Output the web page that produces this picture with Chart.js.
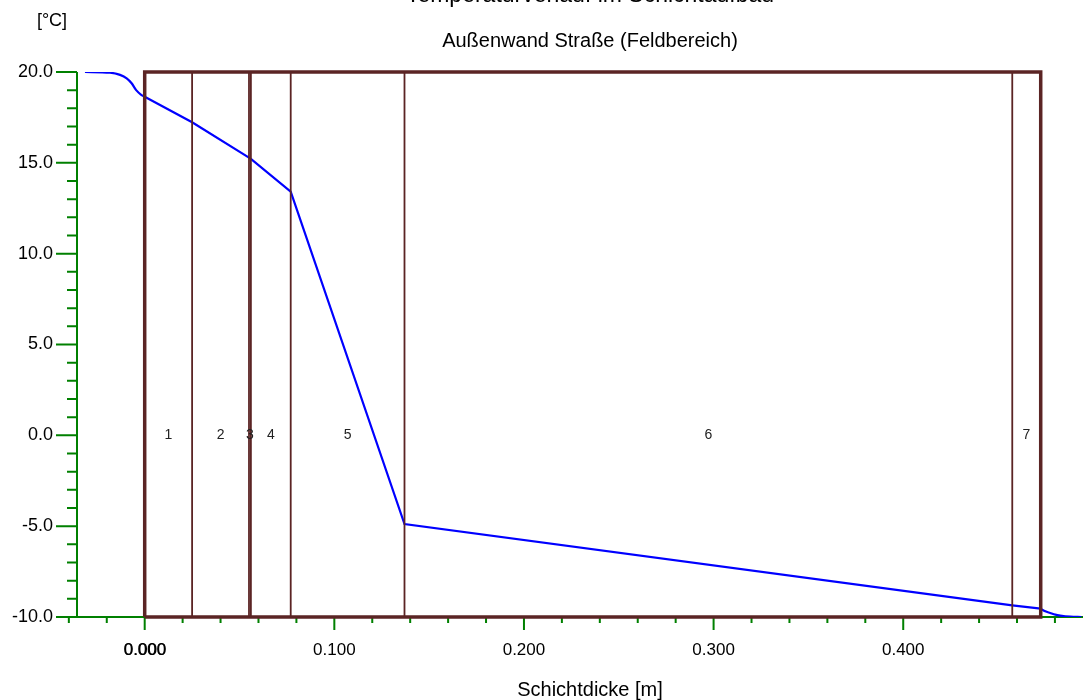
<!DOCTYPE html>
<html>
<head>
<meta charset="utf-8">
<title>Temperaturverlauf im Schichtaufbau</title>
<script src="https://cdn.jsdelivr.net/npm/chart.js@4.4.0/dist/chart.umd.min.js"></script>
<style>
    body { margin: 0; background: #fff; }
    canvas { display: block; }
</style>
</head>
<body>
<canvas id="tempChart" width="1083" height="700"></canvas>
<script>
// layer boundaries [m] and layer numbers
const layerBounds = [0, 0.025, 0.055, 0.056, 0.077, 0.137, 0.4575, 0.4725];
const layerNames = ["1", "2", "3", "4", "5", "6", "7"];

// temperature curve [°C], inside surface zone, wall, outside surface zone
const insideX = [-0.0315, -0.0183, -0.013, -0.0095, -0.0069, -0.0045, -0.002, 0];
const insideT = [20.0, 19.96, 19.84, 19.65, 19.38, 19.0, 18.76, 18.64];
const wallX = [0, 0.025, 0.055, 0.056, 0.077, 0.137, 0.4575, 0.4725];
const wallT = [18.64, 17.23, 15.29, 15.22, 13.42, -4.88, -9.36, -9.54];
const outsideX = [0.4725, 0.4749, 0.4775, 0.4802, 0.4828, 0.4881, 0.494];
const outsideT = [-9.54, -9.69, -9.78, -9.87, -9.92, -9.98, -10.0];

// axis ticks
const yTickValues = [-10, -5, 0, 5, 10, 15, 20];
const yTickLabels = ["-10.0", "-5.0", "0.0", "5.0", "10.0", "15.0", "20.0"];
const xTickValues = [0, 0.1, 0.2, 0.3, 0.4];
const xTickLabels = ["0.000", "0.100", "0.200", "0.300", "0.400"];

const FONT = "'Liberation Sans', Arial, sans-serif";
const GREEN = "#008000";
const BROWN = "#5b2424";

function pts(xs, ys) {
    return xs.map((x, i) => ({ x: x, y: ys[i] }));
}

// frame around the whole wall
const yMin = -10, yMax = 20;
const wallStart = layerBounds[0];
const wallEnd = layerBounds[layerBounds.length - 1];
const framePts = [
    { x: wallStart, y: yMin }, { x: wallStart, y: yMax },
    { x: wallEnd, y: yMax }, { x: wallEnd, y: yMin }, { x: wallStart, y: yMin }
];

// inner layer boundaries as vertical lines, separated by gaps
const innerPts = [];
layerBounds.slice(1, -1).forEach(b => {
    innerPts.push({ x: b, y: yMin }, { x: b, y: yMax }, { x: b, y: null });
});

const axesPlugin = {
    id: "schichtAxes",
    beforeDatasetsDraw(chart) {
        const ctx = chart.ctx;
        const xs = chart.scales.x, ys = chart.scales.y;
        const area = chart.chartArea;
        const x0 = area.left, yb = ys.getPixelForValue(yMin);
        ctx.save();
        ctx.strokeStyle = GREEN;
        ctx.lineWidth = 2;
        ctx.beginPath();
        ctx.moveTo(x0, ys.getPixelForValue(yMax));
        ctx.lineTo(x0, yb);
        ctx.moveTo(x0, yb);
        ctx.lineTo(area.right, yb);
        // y ticks every 1 °C, long ones at the labels
        for (let v = yMin; v <= yMax; v++) {
            const py = ys.getPixelForValue(v);
            const len = v % 5 === 0 ? 21 : 10;
            ctx.moveTo(x0 - len, py);
            ctx.lineTo(x0, py);
        }
        // x ticks every 0.02 m
        for (let i = -2; i <= 24; i++) {
            const v = i * 0.02;
            const px = xs.getPixelForValue(v);
            const len = i % 5 === 0 ? 13 : 6;
            ctx.moveTo(px, yb);
            ctx.lineTo(px, yb + len);
        }
        ctx.stroke();
        ctx.restore();
    },
    afterDraw(chart) {
        const ctx = chart.ctx;
        const xs = chart.scales.x, ys = chart.scales.y;
        const cx = 590;
        ctx.save();
        ctx.fillStyle = "#000";

        ctx.textAlign = "center";
        ctx.textBaseline = "alphabetic";
        ctx.font = "23px " + FONT;
        ctx.fillText("Temperaturverlauf im Schichtaufbau", cx, 2);
        ctx.font = "20px " + FONT;
        ctx.fillText("Außenwand Straße (Feldbereich)", cx, 47);
        ctx.font = "18px " + FONT;
        ctx.fillText("[°C]", 52, 26);

        ctx.textAlign = "right";
        ctx.textBaseline = "middle";
        ctx.font = "18px " + FONT;
        yTickValues.forEach((v, i) => {
            ctx.fillText(yTickLabels[i], 53, ys.getPixelForValue(v));
        });

        ctx.textAlign = "center";
        ctx.font = "17px " + FONT;
        xTickValues.forEach((v, i) => {
            ctx.fillText(xTickLabels[i], xs.getPixelForValue(v), 650);
        });
        // the origin label looks double printed in the source
        ctx.fillText(xTickLabels[0], xs.getPixelForValue(0) + 0.6, 650);

        ctx.font = "20px " + FONT;
        ctx.fillText("Schichtdicke [m]", cx, 690);

        // layer numbers in the middle of each layer at 0 °C
        ctx.font = "14px " + FONT;
        ctx.fillStyle = "#222";
        layerNames.forEach((name, i) => {
            const mid = (layerBounds[i] + layerBounds[i + 1]) / 2;
            ctx.fillText(name, xs.getPixelForValue(mid), ys.getPixelForValue(0));
        });
        ctx.restore();
    }
};

new Chart(document.getElementById("tempChart"), {
    type: "line",
    data: {
        datasets: [
            {
                data: framePts,
                borderColor: BROWN,
                borderWidth: 3.5,
                pointRadius: 0,
                tension: 0,
                clip: false,
                order: 0,
            },
            {
                data: innerPts,
                borderColor: BROWN,
                borderWidth: 1.8,
                pointRadius: 0,
                tension: 0,
                spanGaps: false,
                clip: false,
                order: 1,
            },
            {
                data: pts(insideX, insideT),
                borderColor: "#0000ff",
                borderWidth: 2.2,
                pointRadius: 0,
                cubicInterpolationMode: "monotone",
                order: 2,
            },
            {
                data: pts(wallX, wallT),
                borderColor: "#0000ff",
                borderWidth: 2.2,
                pointRadius: 0,
                tension: 0,
                order: 2,
            },
            {
                data: pts(outsideX, outsideT),
                borderColor: "#0000ff",
                borderWidth: 2.2,
                pointRadius: 0,
                cubicInterpolationMode: "monotone",
                order: 2,
            },
        ],
    },
    options: {
        responsive: false,
        animation: false,
        layout: { padding: { left: 77, top: 72, right: 0, bottom: 83 } },
        plugins: {
            legend: { display: false },
            tooltip: { enabled: false },
            title: { display: false },
        },
        scales: {
            x: { type: "linear", min: -0.0357, max: 0.4948, display: false },
            y: { type: "linear", min: yMin, max: yMax, display: false },
        },
    },
    plugins: [axesPlugin],
});
</script>
</body>
</html>
